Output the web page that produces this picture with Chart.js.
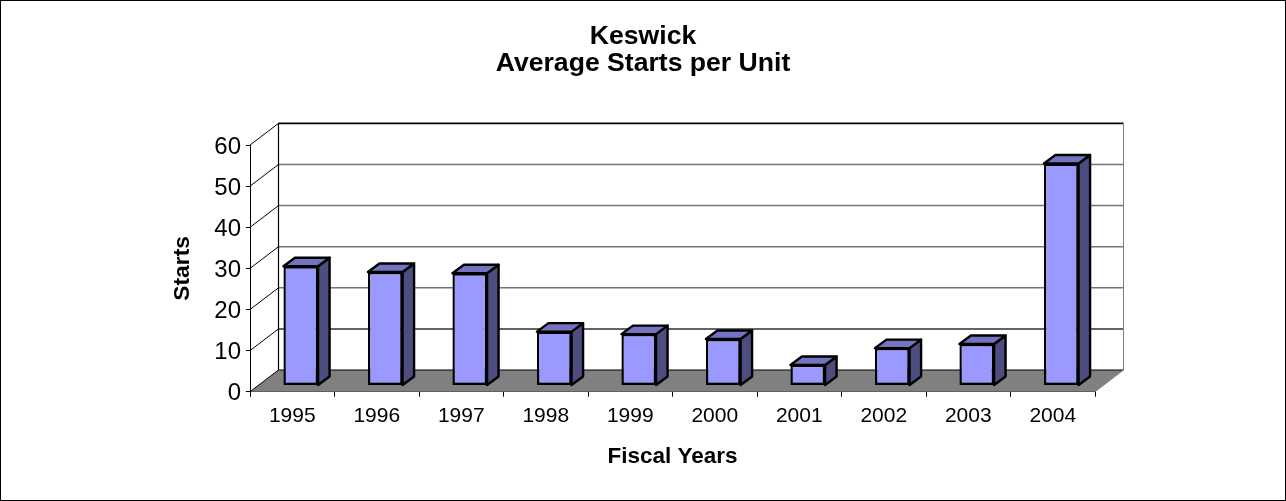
<!DOCTYPE html>
<html>
<head>
<meta charset="utf-8">
<style>html,body{margin:0;padding:0;background:#fff}canvas{display:block}</style>
<script src="https://cdn.jsdelivr.net/npm/chart.js@4"></script>
</head>
<body>
<canvas id="c" width="1286" height="501"></canvas>
<script>
const categories = ['1995','1996','1997','1998','1999','2000','2001','2002','2003','2004'];
const starts = [29, 27.6, 27.3, 13.1, 12.5, 11.3, 5, 9.1, 10.1, 54];
const titleLines = ['Keswick','Average Starts per Unit'];
const FONT = '"Liberation Sans", Arial, sans-serif';

const WALL_DX = 28.5, WALL_DY = -21.7;      // depth of the whole plot box
const BAR_DX = 8.5, BAR_DY = -6.2;          // bar front offset from front axis
const BAR_DEPTH_DX = 11.5, BAR_DEPTH_DY = -8.5; // depth of each column

function poly(ctx, pts, fill, stroke, lw){
  ctx.beginPath();
  pts.forEach((p,i)=> i?ctx.lineTo(p[0],p[1]):ctx.moveTo(p[0],p[1]));
  ctx.closePath();
  if(fill){ctx.fillStyle=fill;ctx.fill();}
  if(stroke){ctx.strokeStyle=stroke;ctx.lineWidth=lw;ctx.lineJoin='round';ctx.stroke();}
}
function line(ctx,x1,y1,x2,y2,color,lw){
  ctx.beginPath();ctx.moveTo(x1,y1);ctx.lineTo(x2,y2);
  ctx.strokeStyle=color;ctx.lineWidth=lw;ctx.stroke();
}
const box3d = {
  id:'box3d',
  beforeDraw(chart){
    const ctx=chart.ctx;
    ctx.save();
    ctx.strokeStyle='#000';ctx.lineWidth=1;
    ctx.strokeRect(0.5,0.5,chart.width-1,chart.height-1);
    ctx.restore();
  },
  beforeDatasetsDraw(chart){
    const ctx=chart.ctx, a=chart.chartArea, y=chart.scales.y;
    const L=a.left,R=a.right,B=a.bottom,T=a.top;
    const dx=WALL_DX,dy=WALL_DY;
    ctx.save();
    // floor
    poly(ctx,[[L,B],[R,B],[R+dx,B+dy],[L+dx,B+dy]],'#808080');
    // wall gridlines + side-wall diagonals
    y.ticks.forEach(t=>{
      const py=y.getPixelForValue(t.value);
      const isTop=t.value===y.max, isZero=t.value===y.min;
      line(ctx,L,py,L+dx,py+dy,'#000',1);
      if(!isZero && !isTop) line(ctx,L+dx,py+dy,R+dx,py+dy,t.value===10?'#303030':'#757575',1.5);
    });
    // top + back edges
    line(ctx,L+dx,T+dy,R+dx,T+dy,'#000',1.6);
    line(ctx,L+dx,T+dy,L+dx,B+dy,'#000',1.2);
    line(ctx,R+dx,T+dy,R+dx,B+dy,'#808080',1);
    line(ctx,L+dx,B+dy,R+dx,B+dy,'#000',1);
    line(ctx,R,B,R+dx,B+dy,'#808080',1);
    // column sides and tops, from the library's bar elements
    ctx.translate(BAR_DX,BAR_DY);
    chart.getDatasetMeta(0).data.forEach(b=>{
      const w=b.width/2,l=b.x-w,r=b.x+w,t=b.y,bs=b.base;
      const ddx=BAR_DEPTH_DX,ddy=BAR_DEPTH_DY;
      poly(ctx,[[r,t],[r+ddx,t+ddy],[r+ddx,bs+ddy],[r,bs]],'#4D4D80','#000',2.4);
      poly(ctx,[[l,t],[l+ddx,t+ddy],[r+ddx,t+ddy],[r,t]],'#7373BF','#000',2.4);
    });
    ctx.restore();
    ctx.save();
    ctx.translate(BAR_DX,BAR_DY);
  },
  afterDatasetsDraw(chart){ chart.ctx.restore(); }
};

new Chart(document.getElementById('c'),{
  type:'bar',
  data:{labels:categories,datasets:[{
    label:'Starts',data:starts,clip:false,
    backgroundColor:'#9999FF',borderColor:'#000',borderWidth:2.4,borderSkipped:false,
    categoryPercentage:1,barPercentage:0.41
  }]},
  options:{
    responsive:false,animation:false,
    layout:{padding:0},
    plugins:{
      legend:{display:false},tooltip:{enabled:false},
      title:{display:true,text:titleLines,color:'#000',
        font:{family:FONT,size:26.6,weight:'bold',lineHeight:1.02},
        padding:{top:23.4,bottom:67.4}}
    },
    scales:{
      x:{
        afterFit(s){s.height=109.3;},
        grid:{drawOnChartArea:false,drawTicks:true,tickLength:5,color:'#000',offset:true},
        border:{color:'#000',width:1},
        ticks:{color:'#000',font:{family:FONT,size:21},padding:7,maxRotation:0},
        title:{display:true,text:'Fiscal Years',color:'#000',
          font:{family:FONT,size:22.5,weight:'bold'},padding:{top:30.5,bottom:30.5}},
      },
      y:{
        min:0,max:60,
        afterFit(s){s.width=250;},
        grid:{drawOnChartArea:false,drawTicks:true,tickLength:4,color:'#000'},
        border:{color:'#000',width:1},
        ticks:{stepSize:10,color:'#000',font:{family:FONT,size:24},padding:5,labelOffset:2},
        title:{display:true,text:'Starts',color:'#000',
          font:{family:FONT,size:22.8,weight:'bold'},padding:{top:169,bottom:169}}
      },
      rightSpace:{
        display:true,position:'right',
        afterFit(s){s.width=191;},
        grid:{display:false},border:{display:false},ticks:{display:false}
      }
    }
  },
  plugins:[box3d]
});
</script>
</body>
</html>
